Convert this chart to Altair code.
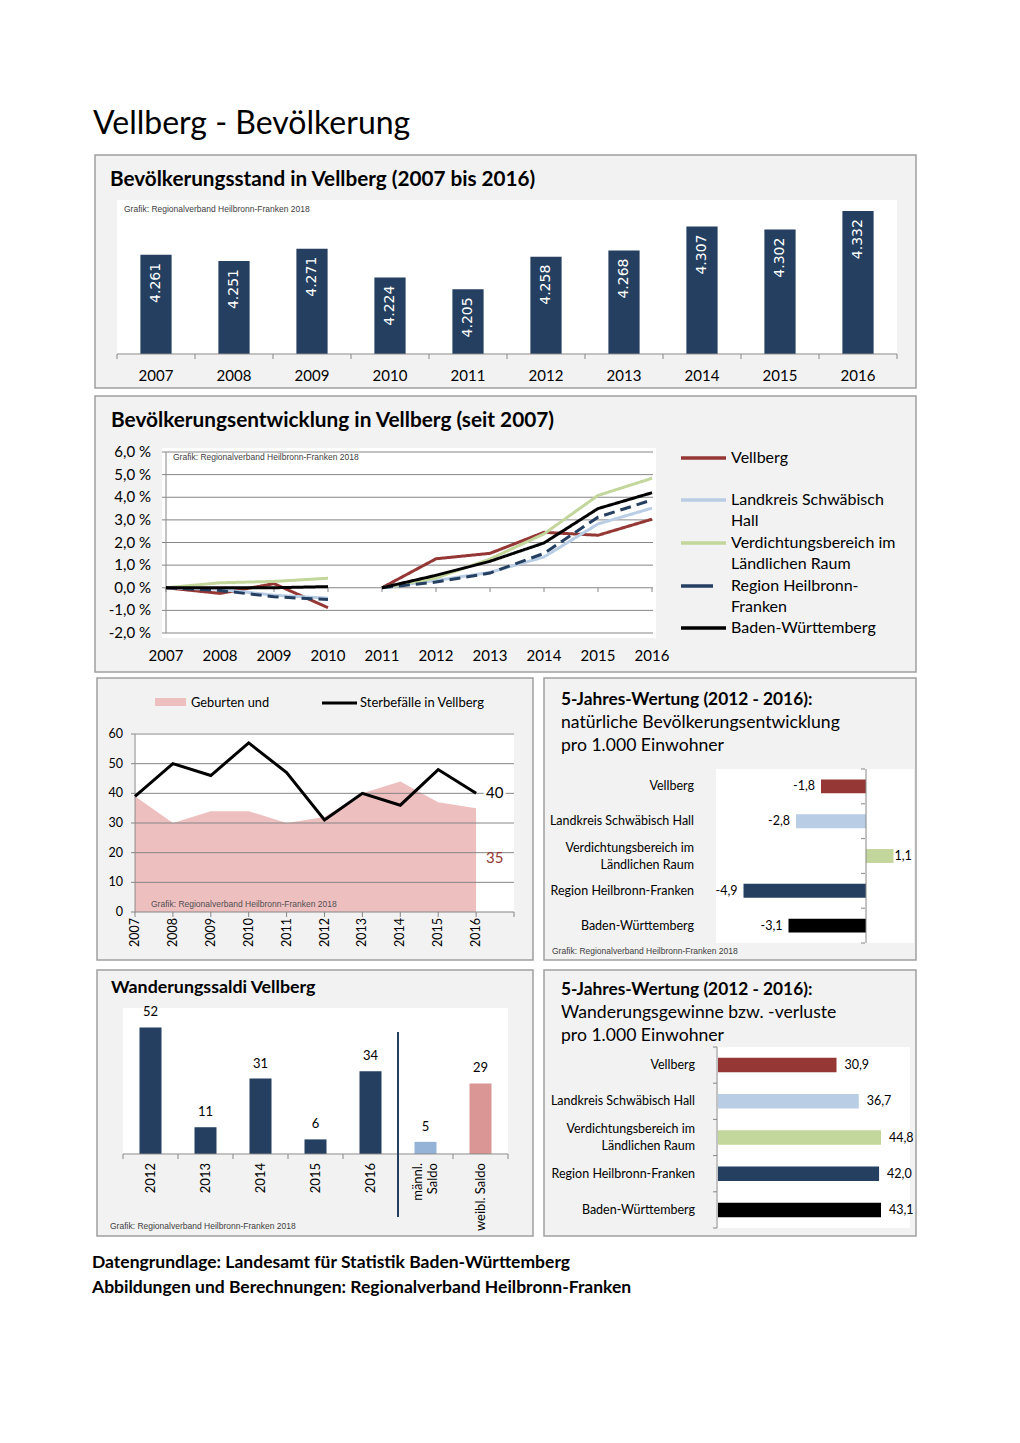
import altair as alt
import pandas as pd

OFF = 8


def P(v):
    """reference page pixel -> canvas pixel"""
    return v - OFF


FONT = "Lato"
SANS = "Liberation Sans"
GRID = "#868686"
NAVY = "#243F60"
RED = "#953735"
LBLUE = "#B9CDE5"
LGREEN = "#C3D69B"
BLACK = "#000000"
PINK_AREA = "#EEBFBF"
MALE = "#95B3D7"
FEMALE = "#D99694"

# ------------------------------------------------------------------ data
years = [2007, 2008, 2009, 2010, 2011, 2012, 2013, 2014, 2015, 2016]
population = [4261, 4251, 4271, 4224, 4205, 4258, 4268, 4307, 4302, 4332]

dev_series = ["Vellberg", "Landkreis Schwäbisch Hall",
              "Verdichtungsbereich im Ländlichen Raum",
              "Region Heilbronn-Franken", "Baden-Württemberg"]
dev_colors = [RED, LBLUE, LGREEN, NAVY, BLACK]
dev_vellberg = [0.0, -0.25, 0.18, -0.88, 0.0, 1.28, 1.52, 2.45, 2.32, 3.03]
dev_landkreis = [0.0, -0.07, -0.33, -0.46, 0.0, 0.32, 0.68, 1.36, 2.82, 3.52]
dev_verdichtung = [0.0, 0.22, 0.28, 0.42, 0.0, 0.43, 1.27, 2.38, 4.08, 4.84]
dev_region = [0.0, -0.12, -0.40, -0.52, 0.0, 0.25, 0.65, 1.52, 3.12, 3.88]
dev_bw = [0.0, 0.0, 0.0, 0.05, 0.0, 0.55, 1.17, 1.98, 3.50, 4.20]
dev_ticks = [6, 5, 4, 3, 2, 1, 0, -1, -2]
dev_tick_labels = ["6,0 %", "5,0 %", "4,0 %", "3,0 %", "2,0 %", "1,0 %", "0,0 %", "-1,0 %", "-2,0 %"]

births = [39, 30, 34, 34, 30, 32, 40, 44, 37, 35]
deaths = [39, 50, 46, 57, 47, 31, 40, 36, 48, 40]
bd_ticks = [0, 10, 20, 30, 40, 50, 60]

regions = ["Vellberg", "Landkreis Schwäbisch Hall",
           "Verdichtungsbereich im\nLändlichen Raum",
           "Region Heilbronn-Franken", "Baden-Württemberg"]
region_colors = [RED, LBLUE, LGREEN, NAVY, BLACK]
natural_5y = [-1.8, -2.8, 1.1, -4.9, -3.1]
migration_5y = [30.9, 36.7, 44.8, 42.0, 43.1]

mig_cats = ["2012", "2013", "2014", "2015", "2016", "männl.\nSaldo", "weibl. Saldo"]
mig_values = [52, 11, 31, 6, 34, 5, 29]
mig_colors = [NAVY, NAVY, NAVY, NAVY, NAVY, MALE, FEMALE]

GRAFIK = "Grafik: Regionalverband Heilbronn-Franken 2018"

# ------------------------------------------------------------------ helpers
one = pd.DataFrame({"k": [0]})


def lin(domain, rng, clamp=False):
    return alt.Scale(domain=domain, range=[P(rng[0]), P(rng[1])], nice=False,
                     zero=False, clamp=clamp)


def band(domain, rng):
    return alt.Scale(domain=domain, range=[P(rng[0]), P(rng[1])],
                     paddingInner=0.6, paddingOuter=0.3)


def hrule(x0, x1, y, color=GRID, w=1):
    return alt.Chart(one).mark_rule(color=color, strokeWidth=w).encode(
        x=alt.value(P(x0)), x2=alt.value(P(x1)), y=alt.value(P(y)))


def vrule(x, y0, y1, color=GRID, w=1):
    return alt.Chart(one).mark_rule(color=color, strokeWidth=w).encode(
        x=alt.value(P(x)), y=alt.value(P(y0)), y2=alt.value(P(y1)))


def txt(s, x, y, size, bold=False, color="black", font=FONT, align="left"):
    return alt.Chart(one).mark_text(
        text=s, align=align, baseline="middle", fontSize=size,
        fontWeight="bold" if bold else "normal", font=font, color=color
    ).encode(x=alt.value(P(x)), y=alt.value(P(y)))


def boundary_ticks_x(n, x0, x1, y0, y1):
    df = pd.DataFrame({"b": list(range(n + 1))})
    return alt.Chart(df).mark_rule(color=GRID).encode(
        x=alt.X("b:Q", scale=lin([0, n], [x0, x1]), axis=None),
        y=alt.value(P(y0)), y2=alt.value(P(y1)))


def boundary_ticks_y(n, y0, y1, x0, x1):
    df = pd.DataFrame({"b": list(range(n + 1))})
    return alt.Chart(df).mark_rule(color=GRID).encode(
        y=alt.Y("b:Q", scale=lin([0, n], [y0, y1]), axis=None),
        x=alt.value(P(x0)), x2=alt.value(P(x1)))


layers = []

# ------------------------------------------------------------------ panel frames
frames = pd.DataFrame({
    "x": [P(95), P(95), P(97), P(544), P(97), P(544)],
    "x2": [P(916), P(916), P(533), P(916), P(533), P(916)],
    "y": [P(155), P(396), P(678), P(678), P(970), P(970)],
    "y2": [P(388), P(672), P(960), P(960), P(1236), P(1236)],
})
layers.append(alt.Chart(frames).mark_rect(fill="#F2F2F2", stroke="#A0A0A0", strokeWidth=1.5).encode(
    x=alt.X("x:Q", scale=None), x2="x2:Q", y=alt.Y("y:Q", scale=None), y2="y2:Q"))
plots = pd.DataFrame({
    "x": [P(117), P(162), P(134), P(716), P(123), P(716)],
    "x2": [P(897), P(656), P(514), P(914), P(508), P(910)],
    "y": [P(200), P(448), P(733), P(769), P(1008), P(1047)],
    "y2": [P(355), P(638), P(912), P(943), P(1155), P(1228)],
})
layers.append(alt.Chart(plots).mark_rect(fill="white").encode(
    x=alt.X("x:Q", scale=None), x2="x2:Q", y=alt.Y("y:Q", scale=None), y2="y2:Q"))

# main title
layers.append(txt("Vellberg - Bevölkerung", 93, 124, 32))

# ------------------------------------------------------------------ panel 1
p1 = pd.DataFrame({"year": [str(y) for y in years], "pop": population})
p1["label"] = [f"{v:,}".replace(",", ".") for v in population]
x1 = band([str(y) for y in years], [117, 897])
y1 = lin([4100, 4350], [354, 200])
layers.append(txt("Bevölkerungsstand in Vellberg (2007 bis 2016)", 110, 180, 20.7, bold=True))
layers.append(txt(GRAFIK, 124, 209, 8.5, font=SANS, color="#404040"))
layers.append(alt.Chart(p1).mark_bar(color=NAVY).encode(
    x=alt.X("year:N", scale=x1, axis=None),
    y=alt.Y("pop:Q", scale=y1, axis=None), y2=alt.datum(4100)))
layers.append(alt.Chart(p1).mark_text(
    angle=270, align="right", baseline="middle", dx=-8, color="white",
    font="DejaVu Sans", fontSize=14).encode(
    x=alt.X("year:N", scale=x1, axis=None),
    y=alt.Y("pop:Q", scale=y1, axis=None), text="label:N"))
layers.append(hrule(117, 897, 354))
layers.append(boundary_ticks_x(10, 117, 897, 354, 359))
layers.append(alt.Chart(p1).mark_text(fontSize=15, font=FONT, baseline="middle").encode(
    x=alt.X("year:N", scale=x1, axis=None), y=alt.value(P(376)), text="year:N"))

# ------------------------------------------------------------------ panel 2
rows = []
for name, vals in zip(dev_series, [dev_vellberg, dev_landkreis, dev_verdichtung, dev_region, dev_bw]):
    for yr, v in zip(years, vals):
        rows.append({"series": name, "year": yr, "v": v, "seg": "a" if yr <= 2010 else "b"})
p2 = pd.DataFrame(rows)
x2s = lin([2007, 2016], [166, 652])
y2s = lin([-2, 6], [633, 452])
col2 = alt.Scale(domain=dev_series, range=dev_colors)
dash2 = alt.Scale(domain=dev_series, range=[[1, 0], [1, 0], [1, 0], [11, 6], [1, 0]])
layers.append(txt("Bevölkerungsentwicklung in Vellberg (seit 2007)", 111, 421, 20.8, bold=True))
ticks2 = pd.DataFrame({"t": dev_ticks, "lab": dev_tick_labels})
layers.append(alt.Chart(ticks2).mark_rule(color=GRID, strokeWidth=1).encode(
    y=alt.Y("t:Q", scale=y2s, axis=None), x=alt.value(P(162)), x2=alt.value(P(653))))
layers.append(vrule(166, 452, 633))
layers.append(alt.Chart(p2[p2.series == dev_series[0]]).mark_rule(color=GRID).encode(
    x=alt.X("year:Q", scale=x2s, axis=None), y=alt.value(P(588)), y2=alt.value(P(592))))
layers.append(txt(GRAFIK, 173, 457, 8.5, font=SANS, color="#404040"))
layers.append(alt.Chart(p2).mark_line(strokeWidth=3).encode(
    x=alt.X("year:Q", scale=x2s, axis=None),
    y=alt.Y("v:Q", scale=y2s, axis=None),
    color=alt.Color("series:N", scale=col2, legend=None),
    strokeDash=alt.StrokeDash("series:N", scale=dash2, legend=None),
    detail="seg:N"))
layers.append(alt.Chart(ticks2).mark_text(
    align="right", baseline="middle", fontSize=15, font=FONT).encode(
    y=alt.Y("t:Q", scale=y2s, axis=None), x=alt.value(P(151)), text="lab:N"))
layers.append(alt.Chart(p2[p2.series == dev_series[0]]).mark_text(
    baseline="middle", fontSize=15, font=FONT).encode(
    x=alt.X("year:Q", scale=x2s, axis=None), y=alt.value(P(656)), text="year:N"))
# legend
leg = pd.DataFrame({"series": dev_series,
                    "y": [P(458), P(500), P(543), P(586), P(628)],
                    "x": [P(681)] * 5,
                    "x2": [P(726), P(726), P(726), P(713), P(726)]})
layers.append(alt.Chart(leg).mark_rule(strokeWidth=3.5).encode(
    x=alt.X("x:Q", scale=None), x2="x2:Q", y=alt.Y("y:Q", scale=None),
    color=alt.Color("series:N", scale=col2, legend=None)))
leg_txt = pd.DataFrame({
    "t": ["Vellberg", "Landkreis Schwäbisch", "Hall", "Verdichtungsbereich im",
          "Ländlichen Raum", "Region Heilbronn-", "Franken", "Baden-Württemberg"],
    "y": [P(458), P(500), P(521), P(543), P(564), P(586), P(607), P(628)]})
layers.append(alt.Chart(leg_txt).mark_text(align="left", baseline="middle", fontSize=16, font=FONT).encode(
    x=alt.value(P(731)), y=alt.Y("y:Q", scale=None), text="t:N"))

# ------------------------------------------------------------------ panel 3
p3 = pd.DataFrame({"year": years, "births": births, "deaths": deaths})
x3 = lin([2007, 2017], [135, 514])
y3 = lin([0, 60], [912, 734])
layers.append(alt.Chart(p3).mark_area(color=PINK_AREA, opacity=1).encode(
    x=alt.X("year:Q", scale=x3, axis=None),
    y=alt.Y("births:Q", scale=y3, axis=None), y2=alt.datum(0)))
ticks3 = pd.DataFrame({"t": bd_ticks})
layers.append(alt.Chart(ticks3).mark_rule(color=GRID, strokeWidth=1).encode(
    y=alt.Y("t:Q", scale=y3, axis=None), x=alt.value(P(131)), x2=alt.value(P(514))))
layers.append(vrule(135, 734, 912))
layers.append(alt.Chart(pd.DataFrame({"year": years + [2017]})).mark_rule(color=GRID).encode(
    x=alt.X("year:Q", scale=x3, axis=None), y=alt.value(P(912)), y2=alt.value(P(917))))
layers.append(txt(GRAFIK, 151, 904, 8.5, font=SANS, color="#505050"))
layers.append(alt.Chart(p3).mark_line(color=BLACK, strokeWidth=3).encode(
    x=alt.X("year:Q", scale=x3, axis=None),
    y=alt.Y("deaths:Q", scale=y3, axis=None)))
layers.append(alt.Chart(ticks3).mark_text(align="right", baseline="middle", fontSize=12.5, font=FONT).encode(
    y=alt.Y("t:Q", scale=y3, axis=None), x=alt.value(P(123)), text="t:N"))
layers.append(alt.Chart(p3).mark_text(angle=270, align="right", baseline="middle",
                                      fontSize=12.5, font=FONT).encode(
    x=alt.X("year:Q", scale=x3, axis=None), y=alt.value(P(918)), text="year:N"))
last3 = p3.tail(1)
layers.append(alt.Chart(last3).mark_text(align="left", baseline="middle", dx=10, fontSize=15,
                                         font=FONT, stroke="white", strokeWidth=5).encode(
    x=alt.X("year:Q", scale=x3, axis=None), y=alt.Y("deaths:Q", scale=y3, axis=None), text="deaths:N"))
layers.append(alt.Chart(last3).mark_text(align="left", baseline="middle", dx=10, fontSize=15,
                                         font=FONT).encode(
    x=alt.X("year:Q", scale=x3, axis=None), y=alt.Y("deaths:Q", scale=y3, axis=None), text="deaths:N"))
layers.append(alt.Chart(last3).mark_text(align="left", baseline="middle", dx=10, fontSize=15,
                                         font=FONT, color=RED).encode(
    x=alt.X("year:Q", scale=x3, axis=None), y=alt.value(P(858)), text="births:N"))
# legend
layers.append(alt.Chart(one).mark_rect(fill=PINK_AREA).encode(
    x=alt.value(P(155)), x2=alt.value(P(186)), y=alt.value(P(698)), y2=alt.value(P(706))))
layers.append(txt("Geburten und", 191, 703, 12.8))
layers.append(hrule(322, 357, 703, color=BLACK, w=3))
layers.append(txt("Sterbefälle in Vellberg", 360, 703, 13))

# ------------------------------------------------------------------ panel 4
p4 = pd.DataFrame({"region": regions, "v": natural_5y})
p4["lab"] = [f"{v:.1f}".replace(".", ",") for v in natural_5y]
p4["nl"] = [r.count("\n") + 1 for r in regions]
y4 = band(regions, [769, 943])
x4 = lin([-6, 2], [716, 916])
col4 = alt.Scale(domain=regions, range=region_colors)
layers.append(txt("5-Jahres-Wertung (2012 - 2016):", 561, 700, 17.3, bold=True))
layers.append(txt("natürliche Bevölkerungsentwicklung", 561, 723, 17.6))
layers.append(txt("pro 1.000 Einwohner", 561, 746, 17.6))
layers.append(alt.Chart(p4).mark_bar().encode(
    y=alt.Y("region:N", scale=y4, axis=None),
    x=alt.X("v:Q", scale=x4, axis=None), x2=alt.datum(0),
    color=alt.Color("region:N", scale=col4, legend=None)))
layers.append(alt.Chart(pd.DataFrame({"z": [0]})).mark_rule(color=GRID).encode(
    x=alt.X("z:Q", scale=x4, axis=None), y=alt.value(P(769)), y2=alt.value(P(943))))
layers.append(boundary_ticks_y(5, 769, 943, 861, 865))
layers.append(alt.Chart(p4).transform_filter("datum.v < 0").mark_text(
    align="right", baseline="middle", dx=-6, fontSize=12.5, font=FONT).encode(
    y=alt.Y("region:N", scale=y4, axis=None), x=alt.X("v:Q", scale=x4, axis=None), text="lab:N"))
layers.append(alt.Chart(p4).transform_filter("datum.v >= 0").mark_text(
    align="left", baseline="middle", dx=1, fontSize=12.5, font=FONT).encode(
    y=alt.Y("region:N", scale=y4, axis=None), x=alt.X("v:Q", scale=x4, axis=None), text="lab:N"))
layers.append(alt.Chart(p4).transform_filter("datum.nl == 1").mark_text(
    align="right", baseline="middle", fontSize=12.5, font=FONT).encode(
    y=alt.Y("region:N", scale=y4, axis=None), x=alt.value(P(694)), text="region:N"))
layers.append(alt.Chart(p4).transform_filter("datum.nl > 1").mark_text(
    align="right", baseline="middle", fontSize=12.5, font=FONT, lineBreak="\n",
    lineHeight=17, dy=-8.5).encode(
    y=alt.Y("region:N", scale=y4, axis=None), x=alt.value(P(694)), text="region:N"))
layers.append(txt(GRAFIK, 552, 951, 8.5, font=SANS, color="#404040"))

# ------------------------------------------------------------------ panel 5
p5 = pd.DataFrame({"cat": mig_cats, "v": mig_values})
p5["nl"] = [c.count("\n") + 1 for c in mig_cats]
x5 = band(mig_cats, [123, 508])
y5 = lin([0, 60], [1154, 1008])
col5 = alt.Scale(domain=mig_cats, range=mig_colors)
layers.append(txt("Wanderungssaldi Vellberg", 111, 988, 17.8, bold=True))
layers.append(alt.Chart(p5).mark_bar().encode(
    x=alt.X("cat:N", scale=x5, axis=None),
    y=alt.Y("v:Q", scale=y5, axis=None), y2=alt.datum(0),
    color=alt.Color("cat:N", scale=col5, legend=None)))
layers.append(alt.Chart(p5).mark_text(baseline="middle", dy=-15, fontSize=13, font=FONT).encode(
    x=alt.X("cat:N", scale=x5, axis=None),
    y=alt.Y("v:Q", scale=y5, axis=None), text="v:N"))
layers.append(hrule(123, 508, 1154))
layers.append(boundary_ticks_x(7, 123, 508, 1154, 1159))
layers.append(alt.Chart(pd.DataFrame({"b": [5]})).mark_rule(color=NAVY, strokeWidth=2).encode(
    x=alt.X("b:Q", scale=lin([0, 7], [123, 508]), axis=None),
    y=alt.value(P(1032)), y2=alt.value(P(1217))))
layers.append(alt.Chart(p5).transform_filter("datum.nl == 1").mark_text(
    angle=270, align="right", baseline="middle", fontSize=13, font=FONT).encode(
    x=alt.X("cat:N", scale=x5, axis=None), y=alt.value(P(1163)), text="cat:N"))
layers.append(alt.Chart(p5).transform_filter("datum.nl > 1").mark_text(
    angle=270, align="right", baseline="middle", fontSize=13, font=FONT,
    lineBreak="\n", lineHeight=15, dy=-7.5).encode(
    x=alt.X("cat:N", scale=x5, axis=None), y=alt.value(P(1163)), text="cat:N"))
layers.append(txt(GRAFIK, 110, 1226, 8.5, font=SANS, color="#404040"))

# ------------------------------------------------------------------ panel 6
p6 = pd.DataFrame({"region": regions, "v": migration_5y})
p6["lab"] = [f"{v:.1f}".replace(".", ",") for v in migration_5y]
p6["nl"] = [r.count("\n") + 1 for r in regions]
y6 = band(regions, [1047, 1228])
x6 = lin([0, 42.5], [718, 881], clamp=True)
layers.append(txt("5-Jahres-Wertung (2012 - 2016):", 561, 990, 17.3, bold=True))
layers.append(txt("Wanderungsgewinne bzw. -verluste", 561, 1013, 17.6))
layers.append(txt("pro 1.000 Einwohner", 561, 1036, 17.6))
layers.append(alt.Chart(p6).mark_bar().encode(
    y=alt.Y("region:N", scale=y6, axis=None),
    x=alt.X("v:Q", scale=x6, axis=None), x2=alt.datum(0),
    color=alt.Color("region:N", scale=col4, legend=None)))
layers.append(vrule(717, 1047, 1228))
layers.append(boundary_ticks_y(5, 1047, 1228, 713, 717))
layers.append(alt.Chart(p6).mark_text(align="left", baseline="middle", dx=8, fontSize=12.5,
                                      font=FONT).encode(
    y=alt.Y("region:N", scale=y6, axis=None), x=alt.X("v:Q", scale=x6, axis=None), text="lab:N"))
layers.append(alt.Chart(p6).transform_filter("datum.nl == 1").mark_text(
    align="right", baseline="middle", fontSize=12.5, font=FONT).encode(
    y=alt.Y("region:N", scale=y6, axis=None), x=alt.value(P(695)), text="region:N"))
layers.append(alt.Chart(p6).transform_filter("datum.nl > 1").mark_text(
    align="right", baseline="middle", fontSize=12.5, font=FONT, lineBreak="\n",
    lineHeight=17, dy=-8.5).encode(
    y=alt.Y("region:N", scale=y6, axis=None), x=alt.value(P(695)), text="region:N"))

# ------------------------------------------------------------------ footer
layers.append(txt("Datengrundlage: Landesamt für Statistik Baden-Württemberg", 92, 1263, 17.5, bold=True))
layers.append(txt("Abbildungen und Berechnungen: Regionalverband Heilbronn-Franken", 92, 1288, 17.5, bold=True))

chart = alt.layer(*layers).resolve_scale(
    x="independent", y="independent", color="independent", strokeDash="independent"
).properties(
    width=1004, height=1427, padding=0, background="white",
    autosize=alt.AutoSizeParams(type="none")
).configure_view(stroke=None)

chart.save("out.html", embed_options={"renderer": "svg", "actions": False})
